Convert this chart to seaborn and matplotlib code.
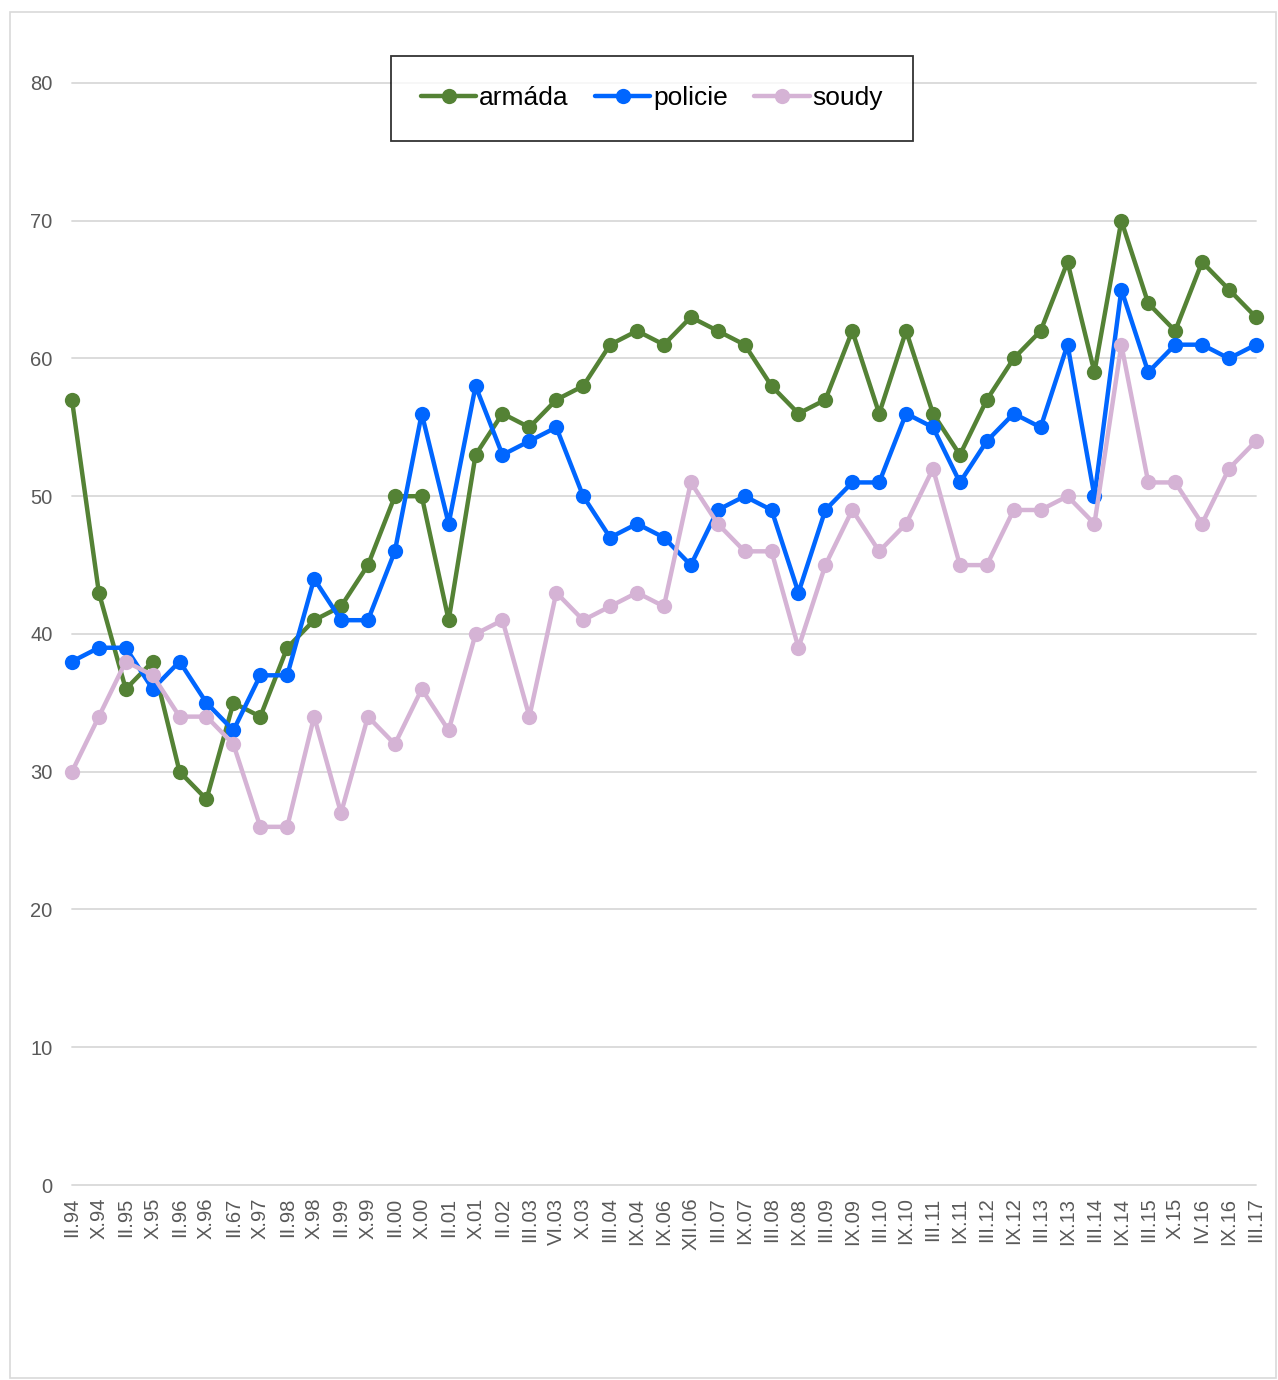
import matplotlib
matplotlib.use("Agg")
import matplotlib.pyplot as plt
import seaborn as sns
import pandas as pd
from matplotlib.patches import Rectangle

# Data
periods = ['II.94', 'X.94', 'II.95', 'X.95', 'II.96', 'X.96', 'II.67', 'X.97', 'II.98', 'X.98',
           'II.99', 'X.99', 'II.00', 'X.00', 'II.01', 'X.01', 'II.02', 'III.03', 'VI.03', 'X.03',
           'III.04', 'IX.04', 'IX.06', 'XII.06', 'III.07', 'IX.07', 'III.08', 'IX.08', 'III.09', 'IX.09',
           'III.10', 'IX.10', 'III.11', 'IX.11', 'III.12', 'IX.12', 'III.13', 'IX.13', 'III.14', 'IX.14',
           'III.15', 'X.15', 'IV.16', 'IX.16', 'III.17']

armada = [57, 43, 36, 38, 30, 28, 35, 34, 39, 41,
          42, 45, 50, 50, 41, 53, 56, 55, 57, 58,
          61, 62, 61, 63, 62, 61, 58, 56, 57, 62,
          56, 62, 56, 53, 57, 60, 62, 67, 59, 70,
          64, 62, 67, 65, 63]

policie = [38, 39, 39, 36, 38, 35, 33, 37, 37, 44,
           41, 41, 46, 56, 48, 58, 53, 54, 55, 50,
           47, 48, 47, 45, 49, 50, 49, 43, 49, 51,
           51, 56, 55, 51, 54, 56, 55, 61, 50, 65,
           59, 61, 61, 60, 61]

soudy = [30, 34, 38, 37, 34, 34, 32, 26, 26, 34,
         27, 34, 32, 36, 33, 40, 41, 34, 43, 41,
         42, 43, 42, 51, 48, 46, 46, 39, 45, 49,
         46, 48, 52, 45, 45, 49, 49, 50, 48, 61,
         51, 51, 48, 52, 54]

series_names = ['armáda', 'policie', 'soudy']
COLORS = {'armáda': '#548235', 'policie': '#0066FF', 'soudy': '#D5B3D5'}

df = pd.concat([
    pd.DataFrame({'idx': range(len(periods)), 'value': vals, 'series': name})
    for name, vals in zip(series_names, [armada, policie, soudy])
])

sns.set_style('white')
plt.rcParams['font.family'] = ['Liberation Sans', 'DejaVu Sans']

fig = plt.figure(figsize=(12.78, 13.8), dpi=100)
ax = fig.add_axes([0.0563, 0.1413, 0.9264, 0.7986])

for name in series_names:
    sub = df[df['series'] == name]
    sns.lineplot(data=sub, x='idx', y='value', color=COLORS[name], marker='o',
                 markersize=11, markeredgewidth=0, linewidth=3.2, label=name, ax=ax,
                 zorder=3, clip_on=False)

ax.set_xlim(0, len(periods) - 1)
ax.set_ylim(0, 80)
ax.set_yticks(range(0, 81, 10))
ax.yaxis.grid(True, color='#D9D9D9', linewidth=1.3)
ax.set_axisbelow(True)
for g in ax.get_ygridlines():
    g.set_clip_on(False)
sns.despine(ax=ax, left=True, bottom=True, top=True, right=True)

ax.set_xticks(range(len(periods)))
ax.set_xticklabels(periods, rotation=90, fontsize=14.5, color='#595959')
ax.tick_params(axis='y', labelsize=14.5, labelcolor='#595959', length=0, pad=14)
ax.tick_params(axis='x', length=0, pad=9)
ax.set_xlabel('')
ax.set_ylabel('')

leg = ax.legend(loc='upper center', bbox_to_anchor=(0.51, 0.9594), bbox_transform=fig.transFigure,
                ncol=3, fontsize=19, frameon=True, fancybox=False, handlelength=2.1,
                handletextpad=0.1, columnspacing=1.0, borderpad=1.15, borderaxespad=0,
                labelcolor='black')
leg.get_frame().set_edgecolor('black')
leg.get_frame().set_linewidth(1.3)

# light outer border like the original chart area
fig.patches.append(Rectangle((10 / 1278, 2 / 1380), 1266 / 1278, 1366 / 1380,
                             transform=fig.transFigure, fill=False,
                             edgecolor='#D9D9D9', linewidth=1.2))

plt.savefig('out.png', dpi=100)
plt.close()
